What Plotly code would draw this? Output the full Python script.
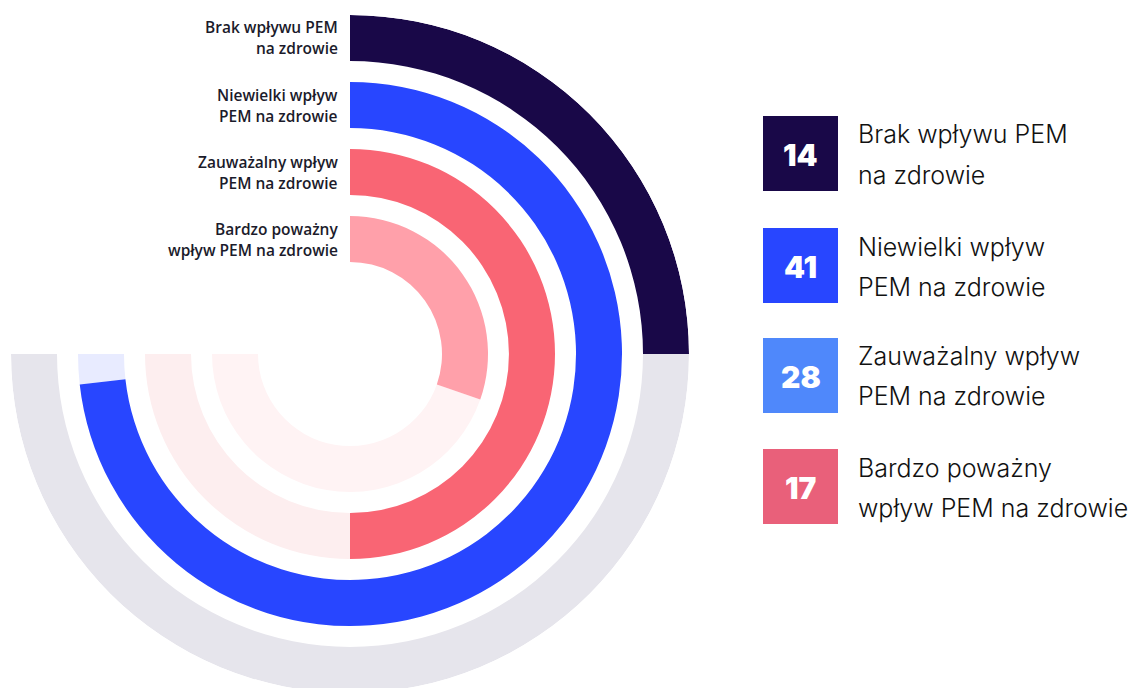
import plotly.graph_objects as go

# ---- data ----
categories = [
    "Brak wpływu PEM na zdrowie",
    "Niewielki wpływ PEM na zdrowie",
    "Zauważalny wpływ PEM na zdrowie",
    "Bardzo poważny wpływ PEM na zdrowie",
]
values = [14, 41, 28, 17]
scale_max = 42
chart_label_line1 = ["Brak wpływu PEM", "Niewielki wpływ", "Zauważalny wpływ", "Bardzo poważny"]
chart_label_line2 = ["na zdrowie", "PEM na zdrowie", "PEM na zdrowie", "wpływ PEM na zdrowie"]
legend_line1 = ["Brak wpływu PEM", "Niewielki wpływ", "Zauważalny wpływ", "Bardzo poważny"]
legend_line2 = ["na zdrowie", "PEM na zdrowie", "PEM na zdrowie", "wpływ PEM na zdrowie"]

# ---- styles ----
ring_colors = ["#190848", "#2846ff", "#f96574", "#ffa0aa"]
track_colors = ["#e6e5ec", "#e8ebff", "#fdeeef", "#fff3f4"]
legend_colors = ["#190848", "#2846ff", "#4f88fb", "#e9607a"]
W, H = 1138, 688
OFF = 8  # page body margin offset
full_sweep = 270
ring_base = [293, 226, 159, 92]
ring_thickness = 46
outer_r = 339
cx, cy = 350, 354  # page pixel centre


def px(x):
    return (x - OFF) / W


def py(y):
    return 1 - (y - OFF) / H


spans = [v / scale_max * full_sweep for v in values]

fig = go.Figure()

# background tracks (remaining part)
fig.add_trace(go.Barpolar(
    r=[ring_thickness] * 4,
    base=ring_base,
    theta=[(s + full_sweep) / 2 for s in spans],
    width=[full_sweep - s for s in spans],
    marker=dict(color=track_colors, line=dict(width=0)),
    hoverinfo="skip",
    showlegend=False,
))
# value arcs
fig.add_trace(go.Barpolar(
    r=[ring_thickness] * 4,
    base=ring_base,
    theta=[s / 2 for s in spans],
    width=spans,
    marker=dict(color=ring_colors, line=dict(width=0)),
    customdata=values,
    text=categories,
    hovertemplate="%{text}: %{customdata}<extra></extra>",
    showlegend=False,
))

fig.update_layout(
    width=W, height=H,
    margin=dict(l=0, r=0, t=0, b=0),
    paper_bgcolor="white",
    plot_bgcolor="white",
    polar=dict(
        domain=dict(x=[px(cx - outer_r), px(cx + outer_r)],
                    y=[py(cy + outer_r), py(cy - outer_r)]),
        bgcolor="white",
        barmode="overlay",
        bargap=0,
        hole=0,
        radialaxis=dict(range=[0, outer_r], visible=False, showgrid=False),
        angularaxis=dict(rotation=90, direction="clockwise", visible=False,
                         showgrid=False, showline=False, ticks=""),
    ),
)

# chart labels (left of ring starts)
label_yc = [37, 105, 172, 239]
for i in range(4):
    for j, txt in enumerate([chart_label_line1[i], chart_label_line2[i]]):
        fig.add_annotation(
            x=px(340), y=py(label_yc[i] + (-10 if j == 0 else 10.5)),
            xref="paper", yref="paper", xanchor="right", yanchor="middle",
            text=txt, showarrow=False, align="right",
            font=dict(family="Open Sans", size=15.5, color="#1b1b2b", weight=600),
        )

# legend squares + numbers + texts
sq_top = [116, 228, 338, 449]
sq_size = 75
sq_left = 763
for i in range(4):
    y0 = sq_top[i]
    fig.add_shape(
        type="rect", xref="paper", yref="paper",
        x0=px(sq_left), x1=px(sq_left + sq_size),
        y0=py(y0 + sq_size), y1=py(y0),
        fillcolor=legend_colors[i], line=dict(width=0), layer="above",
    )
    yc = y0 + sq_size / 2
    fig.add_annotation(
        x=px(sq_left + sq_size / 2), y=py(yc + 1),
        xref="paper", yref="paper", xanchor="center", yanchor="middle",
        text=str(values[i]), showarrow=False,
        font=dict(family="Inter", size=30, color="white", weight=900),
    )
    fig.add_annotation(
        x=px(856), y=py(yc - 19),
        xref="paper", yref="paper", xanchor="left", yanchor="middle",
        text=legend_line1[i], showarrow=False,
        font=dict(family="Inter", size=25, color="#111111", weight=300),
    )
    fig.add_annotation(
        x=px(856), y=py(yc + 21),
        xref="paper", yref="paper", xanchor="left", yanchor="middle",
        text=legend_line2[i], showarrow=False,
        font=dict(family="Inter", size=25, color="#111111", weight=300),
    )

fig.write_html("out.html")
